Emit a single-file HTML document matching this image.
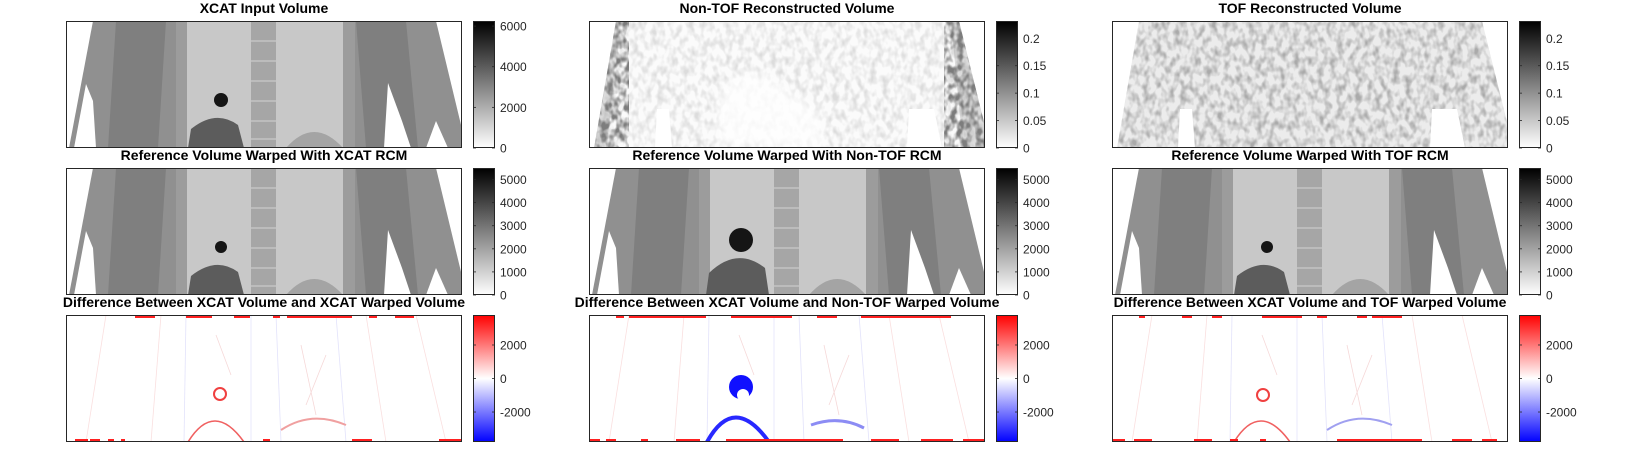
<!DOCTYPE html>
<html><head><meta charset="utf-8"><style>
html,body{margin:0;padding:0;background:#fff;}
svg{display:block;}
text{font-family:"Liberation Sans",sans-serif;}
</style></head><body>
<svg id="fig" width="1636" height="461" viewBox="0 0 1636 461" xmlns="http://www.w3.org/2000/svg">
<defs>
  <linearGradient id="gGray" x1="0" y1="1" x2="0" y2="0">
    <stop offset="0" stop-color="#ffffff"/><stop offset="1" stop-color="#000000"/>
  </linearGradient>
  <linearGradient id="gDiff" x1="0" y1="1" x2="0" y2="0">
    <stop offset="0" stop-color="#0000ff"/><stop offset="0.5" stop-color="#ffffff"/><stop offset="1" stop-color="#ff0000"/>
  </linearGradient>
  <filter id="noise" x="0" y="0" width="100%" height="100%">
    <feTurbulence type="fractalNoise" baseFrequency="0.16 0.11" numOctaves="2" seed="7"/>
    <feColorMatrix type="matrix" values="0 0 0 0 0.3  0 0 0 0 0.3  0 0 0 0 0.3  2.6 0 0 0 -1.05"/>
  </filter>
  <filter id="noise2" x="0" y="0" width="100%" height="100%">
    <feTurbulence type="fractalNoise" baseFrequency="0.16 0.11" numOctaves="2" seed="11"/>
    <feColorMatrix type="matrix" values="0 0 0 0 0.2  0 0 0 0 0.2  0 0 0 0 0.2  3 0 0 0 -1.1"/>
  </filter>
  <filter id="blur2"><feGaussianBlur stdDeviation="6"/></filter>
  <clipPath id="bodyClip">
    <path d="M27,0 L370,0 L396,105 L396,127 L353,127 L345,88 L320,88 L318,127 L83,127 L80,88 L68,88 L66,127 L5,127 Z"/>
  </clipPath>
  <g id="anatomy">
    <rect x="0" y="0" width="396" height="127" fill="#ffffff"/>
    <path d="M27,0 L122,0 L122,127 L3,127 Z" fill="#909090"/>
    <path d="M277,0 L370,0 L396,108 L396,127 L277,127 Z" fill="#909090"/>
    <path d="M50,0 L100,0 L92,127 L42,127 Z" fill="#7f7f7f"/>
    <path d="M290,0 L340,0 L352,127 L300,127 Z" fill="#7f7f7f"/>
    <path d="M8,127 L20,63 L27,80 L30,127 Z" fill="#ffffff"/>
    <path d="M318,127 L322,62 L336,100 L345,127 Z" fill="#ffffff"/>
    <path d="M360,127 L370,100 L382,127 Z" fill="#ffffff"/>
    <rect x="110" y="0" width="12" height="127" fill="#9c9c9c"/>
    <rect x="277" y="0" width="12" height="127" fill="#9c9c9c"/>
    <rect x="121" y="0" width="64" height="127" fill="#c8c8c8"/>
    <rect x="210" y="0" width="67" height="127" fill="#c8c8c8"/>
    <rect x="185" y="0" width="25" height="127" fill="#a6a6a6"/>
    <path d="M185,20h25M185,40h25M185,60h25M185,80h25M185,100h25M185,118h25" stroke="#c4c4c4" stroke-width="1.5"/>
    <path d="M220,127 Q248,95 277,127 Z" fill="#a4a4a4"/>
  </g>
</defs>
</svg>
<script>
// ---- layout ----
const colLeft = [66, 589, 1112];
const rowTop = [21, 168, 315];
const PW = 396, PH = 127;

// ---- data: titles ----
const titles = [
  ["XCAT Input Volume", "Non-TOF Reconstructed Volume", "TOF Reconstructed Volume"],
  ["Reference Volume Warped With XCAT RCM", "Reference Volume Warped With Non-TOF RCM", "Reference Volume Warped With TOF RCM"],
  ["Difference Between XCAT Volume and XCAT Warped Volume", "Difference Between XCAT Volume and Non-TOF Warped Volume", "Difference Between XCAT Volume and TOF Warped Volume"]
];
// ---- data: colorbar ranges and ticks ----
const cbRangeXcat = [0, 6250];
const cbTicksXcat = [0, 2000, 4000, 6000];
const cbLabelsXcat = ["0", "2000", "4000", "6000"];
const cbRangeRecon = [0, 0.2315];
const cbTicksRecon = [0, 0.05, 0.1, 0.15, 0.2];
const cbLabelsRecon = ["0", "0.05", "0.1", "0.15", "0.2"];
const cbRangeWarp = [0, 5500];
const cbTicksWarp = [0, 1000, 2000, 3000, 4000, 5000];
const cbLabelsWarp = ["0", "1000", "2000", "3000", "4000", "5000"];
const cbRangeDiff = [-3790, 3790];
const cbTicksDiff = [-2000, 0, 2000];
const cbLabelsDiff = ["-2000", "0", "2000"];
// red edge artefact bars (panel x-ranges)
const topBars = [
  [[69,89],[120,146],[168,184],[207,214],[221,286],[303,311],[329,348]],
  [[27,35],[40,117],[142,203],[228,248],[272,362]],
  [[27,33],[70,80],[100,110],[150,190],[205,215],[245,255],[260,290]]
];
const botBars = [
  [[9,22],[24,34],[42,48],[55,59],[197,204],[286,306],[373,396]],
  [[0,11],[17,27],[52,59],[87,111],[137,254],[282,310],[332,364],[374,396]],
  [[0,13],[22,40],[82,100],[118,126],[148,154],[225,245],[245,310],[340,360],[370,385]]
];

const NS = "http://www.w3.org/2000/svg";
const svg = document.getElementById("fig");
function mk(tag, attrs, parent) {
  const e = document.createElementNS(NS, tag);
  for (const k in attrs) e.setAttribute(k, attrs[k]);
  (parent || svg).appendChild(e);
  return e;
}

function drawPanelContent(r, c, g) {
  if (r === 0 && c === 0) {
    mk("use", {href: "#anatomy"}, g);
    mk("path", {d: "M122,127 L125,108 Q150,88 172,104 L178,127 Z", fill: "#5c5c5c"}, g);
    mk("circle", {cx: 155, cy: 79, r: 7, fill: "#151515"}, g);
  } else if (r === 1) {
    mk("use", {href: "#anatomy"}, g);
    if (c === 1) {
      mk("path", {d: "M117,127 L120,105 Q148,78 176,100 L180,127 Z", fill: "#5c5c5c"}, g);
      mk("circle", {cx: 152, cy: 72, r: 12, fill: "#151515"}, g);
    } else {
      mk("path", {d: "M122,127 L125,108 Q150,88 172,104 L178,127 Z", fill: "#5c5c5c"}, g);
      mk("circle", {cx: 155, cy: 79, r: 6, fill: "#151515"}, g);
    }
  } else if (r === 0) {
    const bg = mk("g", {"clip-path": "url(#bodyClip)"}, g);
    mk("rect", {x: 0, y: 0, width: PW, height: PH, fill: c === 1 ? "#fbfbfb" : "#ececec"}, bg);
    if (c === 1) {
      mk("rect", {x: 0, y: 0, width: PW, height: PH, fill: "#000", filter: "url(#noise)", opacity: 0.3}, bg);
      mk("path", {d: "M0,0 L40,0 L25,127 L0,127 Z", fill: "#000", filter: "url(#noise2)"}, bg);
      mk("path", {d: "M355,0 L396,0 L396,127 L368,127 Z", fill: "#000", filter: "url(#noise2)"}, bg);
      mk("path", {d: "M0,0 L30,0 L18,127 L0,127 Z", fill: "#808080", opacity: 0.25}, bg);
      mk("path", {d: "M362,0 L396,0 L396,127 L374,127 Z", fill: "#808080", opacity: 0.25}, bg);
      mk("path", {d: "M130,70 Q160,40 185,60 L230,90 L235,127 L130,127 Z", fill: "#fff", opacity: 0.8, filter: "url(#blur2)"}, bg);
    } else {
      mk("rect", {x: 0, y: 0, width: PW, height: PH, fill: "#000", filter: "url(#noise)", opacity: 0.75}, bg);
    }
  } else {
    mk("rect", {x: 0, y: 0, width: PW, height: PH, fill: "#fff"}, g);
    const lines = mk("g", {fill: "none", "stroke-width": 0.8, opacity: 0.4}, g);
    mk("path", {d: "M40,0 L20,127 M95,0 L85,127 M300,0 L320,127 M350,0 L380,127", stroke: "#f2b0b0"}, lines);
    mk("path", {d: "M120,0 L118,127 M185,0 L185,127 M210,0 L215,127 M270,0 L280,127", stroke: "#b8b8f4"}, lines);
    mk("path", {d: "M235,30 L250,100 M150,20 L165,60 M260,40 L240,90", stroke: "#e8a0a0"}, lines);
    if (c === 1) {
      mk("circle", {cx: 152, cy: 72, r: 12, fill: "#1010ff"}, g);
      mk("circle", {cx: 154, cy: 80, r: 6, fill: "#fff"}, g);
      mk("path", {d: "M118,127 Q145,78 180,127", fill: "none", stroke: "#2828ff", "stroke-width": 4}, g);
      mk("path", {d: "M222,110 Q250,100 275,113", fill: "none", stroke: "#8c8cf4", "stroke-width": 3}, g);
    } else {
      mk("circle", {cx: c === 0 ? 154 : 151, cy: c === 0 ? 79 : 80, r: 6, fill: "none", stroke: "#f04040", "stroke-width": 2}, g);
      mk("path", {d: "M122,127 Q148,85 178,127", fill: "none", stroke: "#f06060", "stroke-width": 1.6}, g);
      mk("path", {d: "M215,115 Q245,95 280,110", fill: "none", stroke: c === 0 ? "#f0a0a0" : "#a0a0f0", "stroke-width": 2}, g);
    }
    for (const b of topBars[c]) {
      const e = mk("rect", {x: b[0], y: 0, width: b[1] - b[0], height: 3, fill: "#ff2020"}, g);
      
      
    }
    for (const b of botBars[c]) {
      const e = mk("rect", {x: b[0], y: PH - 3, width: b[1] - b[0], height: 3, fill: "#ff2020"}, g);
      
      
    }
  }
}

function drawColorbar(x, y, range, ticks, labels, grad) {
  const g = mk("g", {});
  
  
  const yScale = v => y + PH - (v - range[0]) / (range[1] - range[0]) * PH;
  mk("rect", {x: x, y: y, width: 22, height: PH, fill: grad}, g);
  mk("rect", {x: x + 0.5, y: y + 0.5, width: 21, height: PH - 1, fill: "none", stroke: "#262626", "stroke-width": 1}, g);
  ticks.forEach((t, i) => {
    const ty = yScale(t);
    mk("line", {x1: x, x2: x + 3, y1: ty, y2: ty, stroke: "#262626", "stroke-width": 0.8}, g);
    mk("line", {x1: x + 19, x2: x + 22, y1: ty, y2: ty, stroke: "#262626", "stroke-width": 0.8}, g);
    const lab = mk("text", {x: x + 27, y: ty + 4.5, "font-size": 12, fill: "#262626"}, g);
    lab.textContent = labels[i];
    
    
  });
}

const cbSets = [
  [[cbRangeXcat, cbTicksXcat, cbLabelsXcat, "url(#gGray)"], [cbRangeRecon, cbTicksRecon, cbLabelsRecon, "url(#gGray)"], [cbRangeRecon, cbTicksRecon, cbLabelsRecon, "url(#gGray)"]],
  [[cbRangeWarp, cbTicksWarp, cbLabelsWarp, "url(#gGray)"], [cbRangeWarp, cbTicksWarp, cbLabelsWarp, "url(#gGray)"], [cbRangeWarp, cbTicksWarp, cbLabelsWarp, "url(#gGray)"]],
  [[cbRangeDiff, cbTicksDiff, cbLabelsDiff, "url(#gDiff)"], [cbRangeDiff, cbTicksDiff, cbLabelsDiff, "url(#gDiff)"], [cbRangeDiff, cbTicksDiff, cbLabelsDiff, "url(#gDiff)"]]
];

for (let r = 0; r < 3; r++) {
  for (let c = 0; c < 3; c++) {
    const x = colLeft[c], y = rowTop[r];
    const g = mk("g", {transform: `translate(${x},${y})`});
    
    
    const cp = mk("clipPath", {id: `cp${r}${c}`}, svg);
    mk("rect", {x: 0, y: 0, width: PW, height: PH}, cp);
    g.setAttribute("clip-path", `url(#cp${r}${c})`);
    drawPanelContent(r, c, g);
    const frame = mk("rect", {x: x + 0.5, y: y + 0.5, width: PW - 1, height: PH - 1, fill: "none", stroke: "#262626", "stroke-width": 1});
    
    
    const t = mk("text", {x: x + PW / 2, y: y - 8, "font-size": 14, "font-weight": "bold", "text-anchor": "middle", fill: "#000"});
    t.textContent = titles[r][c];
    
    
    const s = cbSets[r][c];
    drawColorbar(x + PW + 11, y, s[0], s[1], s[2], s[3]);
  }
}
</script>
</body></html>
